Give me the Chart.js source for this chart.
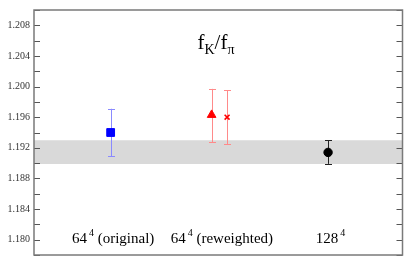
<!DOCTYPE html>
<html><head><meta charset="utf-8">
<script src="https://cdn.jsdelivr.net/npm/chart.js@4.4.1/dist/chart.umd.min.js"></script>
<style>html,body{margin:0;padding:0;background:#fff;}#wrap{width:409px;height:265px;}</style>
</head><body><div id="wrap"><canvas id="c"></canvas></div>
<script>
// ---- data ----
const groupBase = ['64', '64', '128'];
const groupSup = ['4', '4', '4'];
const groupRest = [' (original)', ' (reweighted)', ''];
const seriesGroup = [0, 1, 1, 2];
const seriesX = [2.08, 4.82, 5.24, 7.98];
const seriesY = [1.1940, 1.1963, 1.1960, 1.1914];
const seriesErrHi = [1.1971, 1.1997, 1.1995, 1.1930];
const seriesErrLo = [1.1909, 1.1927, 1.1925, 1.1899];
const bandRange = [1.1899, 1.1930];
const yTicks = [1.180, 1.184, 1.188, 1.192, 1.196, 1.200, 1.204, 1.208];
const yMin = 1.178, yMax = 1.210;

// ---- styles ----
const markerStyle = ['rect', 'triangle', 'crossRot', 'circle'];
const markerRadius = [5.5, 5, 3.5, 4.2];
const markerColor = ['#0000ff', '#ff0000', '#ff0000', '#000000'];
const errColor = ['#8a8aff', '#ff8a8a', '#ff8a8a', '#222222'];
const SERIF = "'Liberation Serif', 'DejaVu Serif', serif";

const datasets = [{
  type: 'line',
  data: [{x: 0, y: bandRange[1]}, {x: 10, y: bandRange[1]}],
  fill: {value: bandRange[0]},
  backgroundColor: '#d9d9d9',
  borderWidth: 0,
  pointRadius: 0,
  showLine: true,
  order: 10
}];
seriesY.forEach((v, i) => {
  datasets.push({
    data: [{x: seriesX[i], y: v}],
    pointStyle: markerStyle[i],
    pointRadius: markerRadius[i],
    backgroundColor: markerColor[i],
    borderColor: markerColor[i],
    borderWidth: markerStyle[i] === 'crossRot' ? 1.6 : 1,
    order: 0
  });
});

const errorBars = {
  id: 'errorBars',
  afterDatasetDraw(chart, args) {
    if (args.index !== 0) return;
    const {ctx, scales: {x, y}} = chart;
    ctx.save();
    ctx.lineWidth = 1;
    seriesY.forEach((v, i) => {
      const px = Math.round(x.getPixelForValue(seriesX[i])) + 0.5;
      const hi = y.getPixelForValue(seriesErrHi[i]);
      const lo = y.getPixelForValue(seriesErrLo[i]);
      ctx.strokeStyle = errColor[i];
      ctx.beginPath();
      ctx.moveTo(px, hi); ctx.lineTo(px, lo);
      ctx.moveTo(px - 3.5, Math.round(hi) + 0.5); ctx.lineTo(px + 3.5, Math.round(hi) + 0.5);
      ctx.moveTo(px - 3.5, Math.round(lo) + 0.5); ctx.lineTo(px + 3.5, Math.round(lo) + 0.5);
      ctx.stroke();
    });
    ctx.restore();
  }
};

const frameAndText = {
  id: 'frameAndText',
  afterDraw(chart) {
    const {ctx, chartArea: a, scales: {x, y}} = chart;
    ctx.save();
    // ticks
    ctx.strokeStyle = '#555';
    ctx.lineWidth = 1;
    const minor = [];
    for (let i = 0; i < yTicks.length - 1; i++) minor.push((yTicks[i] + yTicks[i + 1]) / 2);
    minor.push(yTicks[0] - (yTicks[1] - yTicks[0]) / 2);
    minor.push(yTicks[yTicks.length - 1] + (yTicks[1] - yTicks[0]) / 2);
    ctx.beginPath();
    yTicks.concat(minor).forEach(v => {
      const py = Math.round(y.getPixelForValue(v)) + 0.5;
      ctx.moveTo(a.left, py); ctx.lineTo(a.left + 6, py);
      ctx.moveTo(a.right, py); ctx.lineTo(a.right - 6, py);
    });
    ctx.stroke();
    // frame
    ctx.strokeStyle = '#7a7a7a';
    ctx.lineWidth = 1.5;
    ctx.strokeRect(a.left, a.top, a.right - a.left, a.bottom - a.top);

    // group labels
    ctx.fillStyle = '#000';
    ctx.textBaseline = 'alphabetic';
    ctx.textAlign = 'left';
    const baseY = a.bottom - 12;
    const BIG = '15px ' + SERIF, SMALL = '10px ' + SERIF;
    groupBase.forEach((b, g) => {
      const xs = seriesX.filter((_, i) => seriesGroup[i] === g);
      const cx = x.getPixelForValue(xs.reduce((s, t) => s + t, 0) / xs.length) + 2.5;
      ctx.font = BIG;
      const wb = ctx.measureText(b).width;
      const wr = ctx.measureText(groupRest[g]).width;
      ctx.font = SMALL;
      const ws = ctx.measureText(groupSup[g]).width + 2;
      let sx = cx - (wb + ws + wr) / 2;
      ctx.font = BIG;
      ctx.fillText(b, sx, baseY); sx += wb + 2;
      ctx.font = SMALL;
      ctx.fillText(groupSup[g], sx, baseY - 7); sx += ws - 2;
      ctx.font = BIG;
      ctx.fillText(groupRest[g], sx, baseY);
    });

    // title f_K / f_pi
    const parts = [['f', 21, 0], ['K', 14, 5], ['/f', 21, 0], ['π', 14, 5]];
    let tw = 0;
    parts.forEach(p => { ctx.font = p[1] + 'px ' + SERIF; tw += ctx.measureText(p[0]).width; });
    let tx = 216 - tw / 2;
    const ty = a.top + 39;
    parts.forEach(p => {
      ctx.font = p[1] + 'px ' + SERIF;
      ctx.fillText(p[0], tx, ty + p[2]);
      tx += ctx.measureText(p[0]).width;
    });
    ctx.restore();
  }
};

new Chart(document.getElementById('c'), {
  type: 'scatter',
  data: {datasets},
  options: {
    responsive: true,
    maintainAspectRatio: false,
    animation: false,
    layout: {padding: {top: 3, right: 5, bottom: 2, left: 0}},
    plugins: {legend: {display: false}, tooltip: {enabled: false}},
    scales: {
      x: {type: 'linear', min: 0, max: 10, display: false},
      y: {
        min: yMin, max: yMax,
        afterBuildTicks: s => { s.ticks = yTicks.map(v => ({value: v})); },
        afterFit: s => { s.width = 34; },
        grid: {display: false, drawTicks: false},
        border: {display: false},
        ticks: {
          font: {family: SERIF, size: 10},
          color: '#333',
          padding: 4,
          callback: v => Number(v).toFixed(3)
        }
      }
    }
  },
  plugins: [errorBars, frameAndText]
});
</script>
</body></html>
